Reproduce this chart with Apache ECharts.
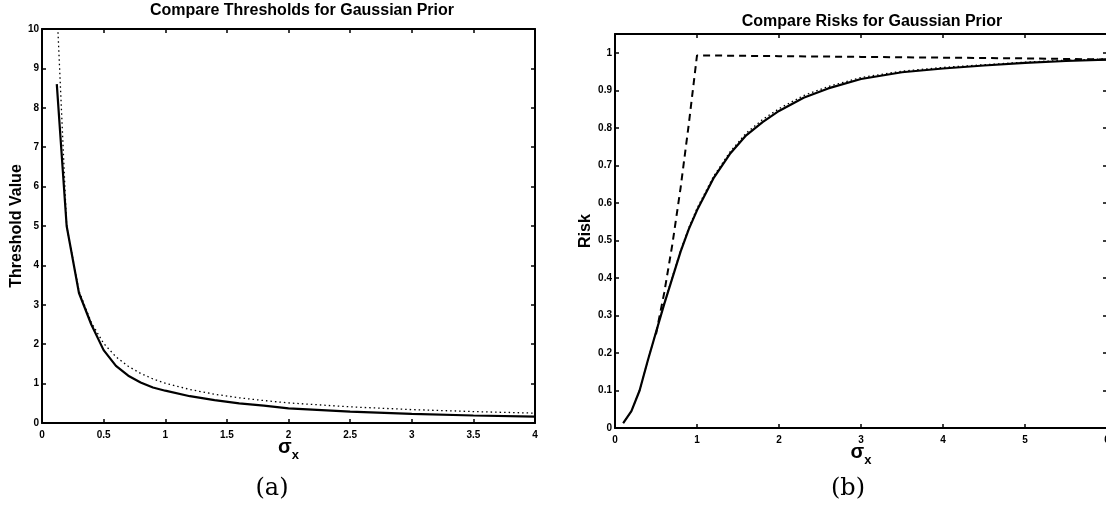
<!DOCTYPE html>
<html>
<head>
<meta charset="utf-8">
<script src="https://cdn.jsdelivr.net/npm/echarts@6/dist/echarts.min.js"></script>
<style>
html,body{margin:0;padding:0;background:#fff;}
#chart{width:1106px;height:508px;}
</style>
</head>
<body>
<div id="chart"></div>
<script>
// ---------- Panel (a): thresholds ----------
const thrX = [0.12, 0.2, 0.3, 0.4, 0.5, 0.6, 0.7, 0.8, 0.9, 1.0, 1.2, 1.4, 1.6, 1.8, 2.0, 2.5, 3.0, 3.5, 4.0];
const thrOptimal = [8.6, 5.0, 3.3, 2.5, 1.85, 1.45, 1.2, 1.03, 0.9, 0.82, 0.68, 0.58, 0.5, 0.44, 0.37, 0.29, 0.23, 0.19, 0.16];
const thrBayes = [10.6, 5.0, 3.35, 2.55, 2.02, 1.68, 1.44, 1.26, 1.12, 1.01, 0.85, 0.73, 0.64, 0.57, 0.51, 0.41, 0.34, 0.29, 0.25];
const thrXTicks = { min: 0, max: 4, interval: 0.5 };
const thrYTicks = { min: 0, max: 10, interval: 1 };

// ---------- Panel (b): risks ----------
const riskX = [0.1, 0.2, 0.3, 0.4, 0.5, 0.6, 0.7, 0.8, 0.9, 1.0, 1.2, 1.4, 1.6, 1.8, 2.0, 2.3, 2.6, 3.0, 3.5, 4.0, 4.5, 5.0, 5.5, 6.0];
const riskOptimal = [0.013, 0.045, 0.1, 0.18, 0.255, 0.33, 0.4, 0.47, 0.53, 0.58, 0.665, 0.73, 0.78, 0.815, 0.845, 0.88, 0.905, 0.93, 0.948, 0.958, 0.966, 0.973, 0.978, 0.982];
const riskBayes = [0.013, 0.045, 0.1, 0.18, 0.256, 0.332, 0.403, 0.473, 0.534, 0.585, 0.67, 0.735, 0.786, 0.822, 0.851, 0.886, 0.91, 0.934, 0.951, 0.961, 0.968, 0.975, 0.98, 0.984];
const dashX = [0.5, 0.6, 0.7, 0.8, 0.9, 1.0, 2.0, 3.0, 4.0, 5.0, 6.0];
const riskDashed = [0.25, 0.36, 0.49, 0.64, 0.81, 0.993, 0.991, 0.989, 0.987, 0.985, 0.982];
const riskXTicks = { min: 0, max: 6, interval: 1 };
const riskYTicks = { min: 0, max: 1.05, interval: 0.1 };

// ---------- Texts ----------
const titles = ['Compare Thresholds for Gaussian Prior', 'Compare Risks for Gaussian Prior'];
const yNames = ['Threshold Value', 'Risk'];
const captions = ['(a)', '(b)'];

const FONT = '"Liberation Sans", Arial, sans-serif';
const pairs = (xs, ys) => xs.map((x, i) => [x, ys[i]]);

function axisBase(t, gridIndex, opts) {
  return Object.assign({
    type: 'value', gridIndex,
    min: t.min, max: t.max, interval: t.interval,
    splitLine: { show: false },
    axisLine: { show: true, onZero: false, lineStyle: { color: '#000', width: 2 } },
    axisTick: { show: true, inside: true, length: 4, lineStyle: { color: '#000', width: 1.5 } },
    axisLabel: { show: true, color: '#000', fontFamily: FONT, fontWeight: 'bold', fontSize: 10 }
  }, opts);
}

const sigmaName = {
  name: '{s|σ}{x|x}',
  nameLocation: 'middle',
  nameGap: 14,
  nameMoveOverlap: false,
  nameTextStyle: {
    color: '#000',
    rich: {
      s: { fontFamily: FONT, fontWeight: 'bold', fontSize: 20, color: '#000', verticalAlign: 'top' },
      x: { fontFamily: FONT, fontWeight: 'bold', fontSize: 13, color: '#000', padding: [12, 0, 0, 0] }
    }
  }
};

const chart = echarts.init(document.getElementById('chart'), null, { renderer: 'canvas' });
chart.setOption({
  backgroundColor: '#fff',
  animation: false,
  grid: [
    { left: 42, top: 29, width: 493, height: 394, containLabel: false, outerBoundsMode: 'none' },
    { left: 615, top: 34, width: 492, height: 394, containLabel: false, outerBoundsMode: 'none' }
  ],
  xAxis: [
    axisBase(thrXTicks, 0, Object.assign({ position: 'bottom', axisLabel: { color: '#000', fontFamily: FONT, fontWeight: 'bold', fontSize: 10, margin: 7 } }, sigmaName)),
    axisBase(thrXTicks, 0, { position: 'top', axisLabel: { show: false } }),
    axisBase(riskXTicks, 1, Object.assign({ position: 'bottom', axisLabel: { color: '#000', fontFamily: FONT, fontWeight: 'bold', fontSize: 10, margin: 7 } }, sigmaName)),
    axisBase(riskXTicks, 1, { position: 'top', axisLabel: { show: false } })
  ],
  yAxis: [
    axisBase(thrYTicks, 0, {
      position: 'left', name: yNames[0], nameLocation: 'middle', nameGap: 17, nameMoveOverlap: false,
      nameTextStyle: { color: '#000', fontFamily: FONT, fontWeight: 'bold', fontSize: 16 },
      axisLabel: { color: '#000', fontFamily: FONT, fontWeight: 'bold', fontSize: 10, margin: 3 }
    }),
    axisBase(thrYTicks, 0, { position: 'right', axisLabel: { show: false } }),
    axisBase(riskYTicks, 1, {
      position: 'left', name: yNames[1], nameLocation: 'middle', nameGap: 21, nameMoveOverlap: false,
      nameTextStyle: { color: '#000', fontFamily: FONT, fontWeight: 'bold', fontSize: 16 },
      axisLabel: { color: '#000', fontFamily: FONT, fontWeight: 'bold', fontSize: 10, margin: 3, showMaxLabel: false,
        formatter: v => (Math.abs(v * 10 - Math.round(v * 10)) < 1e-6 ? String(Math.round(v * 10) / 10) : '') }
    }),
    axisBase(riskYTicks, 1, { position: 'right', axisLabel: { show: false } })
  ],
  series: [
    { type: 'line', xAxisIndex: 0, yAxisIndex: 0, data: pairs(thrX, thrBayes), showSymbol: false, clip: true,
      lineStyle: { color: '#000', width: 1.3, type: [1.5, 3] } },
    { type: 'line', xAxisIndex: 0, yAxisIndex: 0, data: pairs(thrX, thrOptimal), showSymbol: false, clip: true,
      lineStyle: { color: '#000', width: 2.2 } },
    { type: 'line', xAxisIndex: 2, yAxisIndex: 2, data: pairs(riskX, riskBayes), showSymbol: false, clip: true,
      lineStyle: { color: '#000', width: 1.3, type: [1.5, 3] } },
    { type: 'line', xAxisIndex: 2, yAxisIndex: 2, data: pairs(riskX, riskOptimal), showSymbol: false, clip: true,
      lineStyle: { color: '#000', width: 2.2 } },
    { type: 'line', xAxisIndex: 2, yAxisIndex: 2, data: pairs(dashX, riskDashed), showSymbol: false, clip: true,
      lineStyle: { color: '#000', width: 2, type: [7, 5] } }
  ],
  graphic: [
    { type: 'text', x: 302, y: 3, style: { text: titles[0], align: 'center', verticalAlign: 'top', font: 'bold 16px ' + FONT, fill: '#000' } },
    { type: 'text', x: 872, y: 14, style: { text: titles[1], align: 'center', verticalAlign: 'top', font: 'bold 16px ' + FONT, fill: '#000' } },
    { type: 'text', x: 272, y: 489, style: { text: captions[0], align: 'center', verticalAlign: 'middle', font: '24px "DejaVu Serif", serif', fill: '#000' } },
    { type: 'text', x: 848, y: 489, style: { text: captions[1], align: 'center', verticalAlign: 'middle', font: '24px "DejaVu Serif", serif', fill: '#000' } }
  ]
});
</script>
</body>
</html>
